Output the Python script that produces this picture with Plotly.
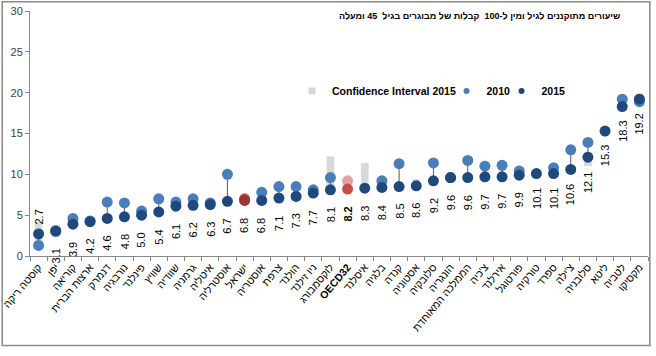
import plotly.graph_objects as go

countries = ["קוסטה ריקה", "יפן", "קוריאה", "ארצות הברית", "דנמרק", "נורבגיה", "פינלנד",
             "שוויץ", "שוודיה", "גרמניה", "איטליה", "אוסטרליה", "ישראל", "אוסטריה", "צרפת",
             "הולנד", "ניו זילנד", "לוקסמבורג", "OECD32", "איסלנד", "בלגיה", "קנדה", "אסטוניה",
             "סלובקיה", "הונגריה", "הממלכה המאוחדת", "צ'כיה", "אירלנד", "פורטוגל", "טורקיה",
             "ספרד", "צ'ילה", "סלובניה", "ליטא", "לטביה", "מקסיקו"]

values_2015 = [2.7, 3.1, 3.9, 4.2, 4.6, 4.8, 5.0, 5.4, 6.1, 6.2, 6.3, 6.7, 6.8, 6.8, 7.1, 7.3,
               7.7, 8.1, 8.2, 8.3, 8.4, 8.5, 8.6, 9.2, 9.6, 9.6, 9.7, 9.7, 9.9, 10.1, 10.1,
               10.6, 12.1, 15.3, 18.3, 19.2]

values_2010 = [1.3, 3.0, 4.6, 4.3, 6.6, 6.5, 5.5, 7.0, 6.6, 7.0, 6.5, 10.0, 7.0, 7.8, 8.5, 8.5,
               8.1, 9.6, 9.2, None, 9.2, 11.3, None, 11.4, 9.6, 11.7, 11.0, 11.1, 10.4, None, 10.8,
               13.0, 13.9, None, 19.2, 18.9]

ci_low_2015 = [1.5, None, None, None, None, None, None, None, None, None, None, None, None, None,
               None, None, None, 7.5, None, 7.8, None, None, 8.2, None, None, None, None, None,
               None, None, None, None, 11.0, None, None, 18.6]
ci_high_2015 = [4.2, None, None, None, None, None, None, None, None, None, None, None, None, None,
                None, None, None, 12.2, None, 11.4, None, None, 9.4, None, None, None, None, None,
                None, None, None, None, 12.7, None, None, 19.9]

title_text = "שיעורים מתוקננים לגיל ומין ל-100  קבלות של מבוגרים בגיל  45 ומעלה"

# styles
C2010 = "#4a7ebb"
C2015 = "#1f497d"
CI_COLOR = "#d9d9d9"
hl_2010 = {"ישראל": "#c0504d", "OECD32": "#e6a1a0"}
hl_2015 = {"ישראל": "#953735", "OECD32": "#c0504d"}
FONT = "Arial, Liberation Sans, sans-serif"

fig = go.Figure()

# confidence interval bars
ci_height = [(h - l) if (h is not None and l is not None) else None
             for l, h in zip(ci_low_2015, ci_high_2015)]
fig.add_trace(go.Bar(x=countries, y=ci_height, base=ci_low_2015, width=0.45,
                     marker=dict(color=CI_COLOR, line=dict(width=0)),
                     showlegend=False, hoverinfo="skip"))

# connectors 2010 -> 2015
cx, cy = [], []
for c, a, b in zip(countries, values_2010, values_2015):
    if a is not None and b is not None:
        cx += [c, c, None]
        cy += [a, b, None]
fig.add_trace(go.Scatter(x=cx, y=cy, mode="lines", line=dict(color="#595959", width=1),
                         showlegend=False, hoverinfo="skip"))

fig.add_trace(go.Scatter(x=countries, y=values_2010, mode="markers",
                         marker=dict(size=11, color=[hl_2010.get(c, C2010) for c in countries]),
                         showlegend=False, name="2010"))
fig.add_trace(go.Scatter(x=countries, y=values_2015, mode="markers",
                         marker=dict(size=11, color=[hl_2015.get(c, C2015) for c in countries]),
                         showlegend=False, name="2015"))

# legend entries (small symbols), each in its own legend for placement
fig.add_trace(go.Scatter(x=[None], y=[None], mode="markers", name="Confidence Interval 2015",
                         marker=dict(symbol="square", size=7, color=CI_COLOR), legend="legend"))
fig.add_trace(go.Scatter(x=[None], y=[None], mode="markers", name="2010",
                         marker=dict(size=6, color=C2010), legend="legend2"))
fig.add_trace(go.Scatter(x=[None], y=[None], mode="markers", name="2015",
                         marker=dict(size=6, color=C2015), legend="legend3"))

# value labels
annotations = []
label_above = {"קוסטה ריקה"}
for c, v in zip(countries, values_2015):
    txt = f"{v:.1f}"
    if c == "OECD32":
        txt = f"<b>{txt}</b>"
    annotations.append(dict(x=c, y=v, xref="x", yref="y", text=txt, showarrow=False,
                            textangle=-90, xanchor="center", yanchor="middle",
                            yshift=(17 if c in label_above else -25),
                            font=dict(family=FONT, size=11, color="#000000")))

annotations.append(dict(x=0.958, y=0.98, xref="paper", yref="paper", text=f"<b>{title_text}</b>",
                        showarrow=False, xanchor="right", yanchor="middle",
                        font=dict(family=FONT, size=9, color="#000000")))

legend_common = dict(orientation="h", yanchor="middle", y=0.673, xanchor="left",
                     bgcolor="rgba(0,0,0,0)", itemwidth=30,
                     font=dict(family=FONT, size=10.5, color="#000000", weight="bold"))

ticktext = [f"<b>{c}</b>" if c == "OECD32" else c for c in countries]

fig.update_layout(
    width=656, height=356,
    margin=dict(l=30, r=8, t=11, b=100),
    paper_bgcolor="white", plot_bgcolor="white",
    barmode="overlay",
    annotations=annotations,
    legend=dict(legend_common, x=0.424),
    legend2=dict(legend_common, x=0.674),
    legend3=dict(legend_common, x=0.763),
    xaxis=dict(type="category", range=[-0.5, 35.5], tickmode="array", tickvals=countries,
               ticktext=ticktext, tickson="boundaries", ticks="outside", ticklen=4,
               tickcolor="#888888", showline=True, linecolor="#888888", linewidth=1,
               showgrid=False, tickangle=-50, automargin=False,
               tickfont=dict(family=FONT, size=10.5, color="#000000")),
    yaxis=dict(range=[0, 30], dtick=5, ticks="outside", ticklen=4, tickcolor="#888888",
               showline=True, linecolor="#888888", linewidth=1, showgrid=False, zeroline=False,
               automargin=False,
               tickfont=dict(family=FONT, size=11, color="#404040")),
    shapes=[dict(type="rect", xref="paper", yref="paper", x0=-0.045, x1=1.003,
                 y0=-0.365, y1=1.038, line=dict(color="#8a8a8a", width=1.5),
                 fillcolor="rgba(0,0,0,0)", layer="above")],
)

fig.write_html("out.html", config={"displayModeBar": False},
               post_script="document.body.style.margin='0px';")
